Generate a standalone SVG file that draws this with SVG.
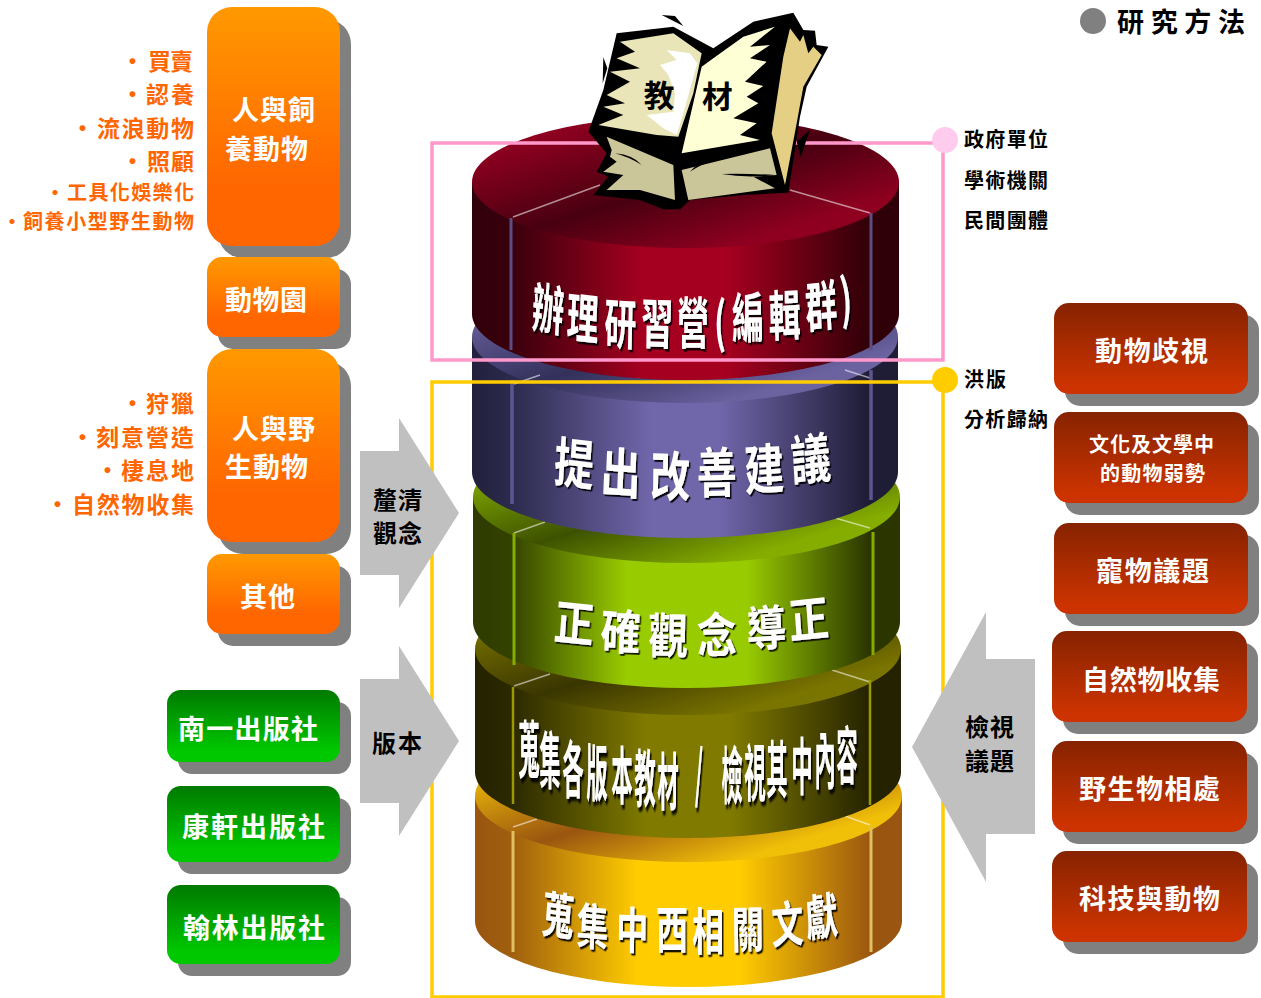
<svg xmlns="http://www.w3.org/2000/svg" width="1261" height="998" viewBox="0 0 1261 998">
<style>
text{font-family:"Noto Sans CJK TC","Noto Sans CJK SC",sans-serif;font-weight:700}
.s{fill:#808080}
.o{fill:url(#gO)}.g{fill:url(#gG)}.r{fill:url(#gR)}
.w{fill:#fff;font-size:27px}
.bl{fill:#ff6600;font-size:23px}
.bs{fill:#ff6600;font-size:20px}
.k{fill:#000;font-size:20px}
.a{fill:#c0c0c0}
.d{fill:#fff;font-size:40px;text-anchor:middle;dominant-baseline:central;filter:url(#sh)}
.e{stroke:#fff;stroke-opacity:.55;stroke-width:1.5;fill:none}
</style>
<defs>
<linearGradient id="gO" x1="0" y1="0" x2="0" y2="1"><stop offset="0" stop-color="#ff9900"/><stop offset=".75" stop-color="#ff6600"/></linearGradient>
<linearGradient id="gG" x1="0" y1="0" x2="0" y2="1"><stop offset="0" stop-color="#007a00"/><stop offset=".85" stop-color="#00c800"/></linearGradient>
<linearGradient id="gR" x1="0" y1="0" x2="0" y2="1"><stop offset="0" stop-color="#862300"/><stop offset=".9" stop-color="#cc3300"/></linearGradient>
<linearGradient id="f1"><stop offset="0" stop-color="#30000a"/><stop offset=".09" stop-color="#38000c"/><stop offset=".4" stop-color="#a5001f"/><stop offset=".6" stop-color="#a5001f"/><stop offset=".93" stop-color="#300008"/><stop offset="1" stop-color="#300008"/></linearGradient>
<linearGradient id="t1" x1="0" y1="0" x2="1" y2="1"><stop offset=".15" stop-color="#8f0020"/><stop offset=".5" stop-color="#480010"/><stop offset=".8" stop-color="#8f0020"/></linearGradient>
<linearGradient id="f2"><stop offset="0" stop-color="#22203c"/><stop offset=".09" stop-color="#2c2a4c"/><stop offset=".42" stop-color="#7066aa"/><stop offset=".58" stop-color="#7066aa"/><stop offset=".93" stop-color="#1f1c36"/><stop offset="1" stop-color="#1f1c36"/></linearGradient>
<linearGradient id="t2" x1="0" y1="0" x2="1" y2="1"><stop offset=".15" stop-color="#6b62a0"/><stop offset=".5" stop-color="#33305a"/><stop offset=".8" stop-color="#6b62a0"/></linearGradient>
<linearGradient id="f3"><stop offset="0" stop-color="#2e3a00"/><stop offset=".09" stop-color="#344200"/><stop offset=".36" stop-color="#99cc00"/><stop offset=".64" stop-color="#99cc00"/><stop offset=".93" stop-color="#2a3500"/><stop offset="1" stop-color="#2a3500"/></linearGradient>
<linearGradient id="t3" x1="0" y1="0" x2="1" y2="1"><stop offset=".15" stop-color="#85ad00"/><stop offset=".5" stop-color="#3d5200"/><stop offset=".8" stop-color="#85ad00"/></linearGradient>
<linearGradient id="f4"><stop offset="0" stop-color="#242200"/><stop offset=".09" stop-color="#2c2a00"/><stop offset=".4" stop-color="#807a00"/><stop offset=".6" stop-color="#807a00"/><stop offset=".93" stop-color="#242200"/><stop offset="1" stop-color="#242200"/></linearGradient>
<linearGradient id="t4" x1="0" y1="0" x2="1" y2="1"><stop offset=".15" stop-color="#7a7400"/><stop offset=".5" stop-color="#3a3600"/><stop offset=".8" stop-color="#7a7400"/></linearGradient>
<linearGradient id="f5"><stop offset="0" stop-color="#9a5510"/><stop offset=".09" stop-color="#a0600e"/><stop offset=".38" stop-color="#ffcc00"/><stop offset=".62" stop-color="#ffcc00"/><stop offset=".93" stop-color="#9a5510"/><stop offset="1" stop-color="#9a5510"/></linearGradient>
<linearGradient id="t5" x1="0" y1="0" x2="1" y2="1"><stop offset=".15" stop-color="#f0bf08"/><stop offset=".5" stop-color="#9a5510"/><stop offset=".8" stop-color="#f0bf08"/></linearGradient>
<filter id="sh" x="-10%" y="-20%" width="120%" height="140%"><feDropShadow dx="1.500" dy="1.500" stdDeviation=".4" flood-color="#000" flood-opacity=".9"/></filter>
</defs>

<g id="stack">
<g id="tier-gold">
<path d="M475 796V921A213.500 66 0 0 0 902 921V796Z" fill="url(#f5)"/>
<ellipse cx="688.500" cy="796" rx="213.500" ry="66" fill="url(#t5)"/>
<path class="e" d="M513 827L537 819M870 825L845 816"/>
<path d="M513 831V952M871 827V952" stroke="#e0c060" stroke-width="3"/>
<g transform="scale(1,1.55)"><text class="d" style="font-size:32px" x="557 592 632 672 708 748 788 823" y="587 595 598 598 599 598 595 591" rotate="6 3 1 0 0 -1 -3 -6">蒐集中西相關文獻</text></g>
</g>
<g id="tier-olive">
<path d="M475 649V772A213 66 0 0 0 901 772V649Z" fill="url(#f4)"/>
<ellipse cx="688" cy="649" rx="213" ry="66" fill="url(#t4)"/>
<path class="e" d="M514 686L550 674M870 682L832 670"/>
<path d="M513 687V804M870 680V805" stroke="#9a9a00" stroke-width="2.500"/>
<g transform="scale(1,2.9)"><text class="d" style="font-size:21.500px" x="529 550 573 597 622 645 668 699 732 755 777 802 825 847" y="257 261 264 265 266 267 268 265 266 265 264 263 261 259">蒐集各版本教材/檢視其中內容</text></g>
</g>
<g id="tier-green">
<path d="M473 497V622A213.500 66 0 0 0 900 622V497Z" fill="url(#f3)"/>
<ellipse cx="686.500" cy="497" rx="213.500" ry="66" fill="url(#t3)"/>
<path class="e" d="M514 533L545 522M870 528L835 518"/>
<path d="M514 533V665M873 532V655" stroke="#85ad00" stroke-width="3"/>
<g transform="scale(1,1.2)"><text class="d" x="573 620 668 717 767 810" y="515 523 527 527 522 515" rotate="5 3 1 -1 -3 -5">正確觀念導正</text></g>
</g>
<g id="tier-purple">
<path d="M472 337V472A213 66 0 0 0 898 472V337Z" fill="url(#f2)"/>
<ellipse cx="685" cy="337" rx="213" ry="66" fill="url(#t2)"/>
<path class="e" d="M514 384L540 375M870 378L845 370"/>
<path d="M512 380V504M871 370V500" stroke="#5d5590" stroke-width="3.500"/>
<g transform="scale(1,1.35)"><text class="d" x="573 620 670 717 765 812" y="339 347 350 348 346 339" rotate="5 3 1 -1 -3 -5">提出改善建議</text></g>
</g>
<g id="tier-red">
<path d="M472 182V314A213.500 66 0 0 0 899 314V182Z" fill="url(#f1)"/>
<ellipse cx="685.500" cy="182" rx="213.500" ry="66" fill="url(#t1)"/>
<path class="e" d="M513 217L600 185M870 213L790 190"/>
<path d="M511 218V350M871 213V350" stroke="#5d4d82" stroke-width="3"/>
<g transform="scale(1,1.7)"><text class="d" style="font-size:32px" x="547 582 620 657 693 720 748 785 822 847" y="178 184 188 188 188 187 185 184 179 174" rotate="6 4 2 1 0 0 -1 -2 -4 -6">辦理研習營(編輯群)</text></g>
</g>
</g>

<rect x="432" y="143" width="511" height="217" fill="none" stroke="#ff99cc" stroke-width="3.500"/>
<rect x="432" y="382" width="511" height="615" fill="none" stroke="#ffcc00" stroke-width="3.500"/>
<circle cx="945" cy="140" r="13" fill="#ffccee"/>
<circle cx="945" cy="380" r="13" fill="#ffcc00"/>

<g id="book" transform="translate(460,0) scale(.33333)">
<path d="M470 100L640 80L760 145L880 65L1000 38L1030 90L1065 92L1070 135L1105 140L1040 260L1020 350L985 578L850 585L690 600L660 628L610 628L540 600L400 585L445 530L410 515L440 460L385 395L430 270Z"/>
<path d="M605 45L645 48L670 78ZM430 172L442 205L428 250ZM1050 390L1022 470L1010 425Z"/>
<path fill="#e9e5b8" d="M480 125L640 100L725 160L700 280L655 410L590 405L415 375L490 345L430 320L495 310L440 285L510 245L450 215L540 205L470 175L525 155Z"/>
<path fill="#fff" d="M620 150L690 160L712 190L670 340L650 405L610 385L560 345L640 335L645 280L625 225L600 195L650 180Z"/>
<path fill="#ffffd5" d="M945 80L870 140L930 135L870 175L920 185L855 245L910 258L860 290L895 310L820 355L890 370L840 405L900 420L665 460L725 200L760 175L850 110Z"/>
<path fill="#e5cf85" d="M990 85L1020 125L1030 105L1045 160L1060 140L1085 165L1030 260L1010 370L975 555L935 400L970 170Z"/>
<path fill="#cbc59a" d="M440 410L640 495L645 600L540 570L440 570L490 525L430 515L470 485L450 470L455 450Z"/>
<path fill="#cbc59a" d="M665 510L930 445L950 525L880 530L945 565L685 600Z"/>
<path d="M465 460Q520 465 545 495Q510 472 465 460ZM690 515Q720 480 765 480Q725 492 690 515ZM785 522Q860 520 945 525Q860 535 785 522Z"/>
<text x="597" y="320" text-anchor="middle" fill="#000" style="font-size:92px">教</text>
<text x="772" y="325" text-anchor="middle" fill="#000" style="font-size:92px">材</text>
</g>

<g id="connectors">
<path class="a" d="M360 451H399V418L459 513L399 608V575H360Z"/>
<path class="a" d="M360 679H399V646L459 741L399 836V803H360Z"/>
<path class="a" d="M912 747L986 612V659H1035V834H986V882Z"/>
</g>
<g id="arrow-labels">
<text class="k" x="373" y="509" textLength="49" style="font-size:24px">釐清</text>
<text class="k" x="373" y="542" textLength="49" style="font-size:24px">觀念</text>
<text class="k" x="372" y="752" textLength="50" style="font-size:24px">版本</text>
<text class="k" x="965" y="736" textLength="49" style="font-size:24px">檢視</text>
<text class="k" x="965" y="770" textLength="49" style="font-size:24px">議題</text>
</g>

<g id="n-feed"><rect class="s" x="218" y="19" width="133" height="239" rx="25"/><rect class="o" x="207" y="7" width="133" height="239" rx="25"/>
<text class="w" x="232" y="120" textLength="83">人與飼</text><text class="w" x="225" y="159" textLength="83">養動物</text></g>
<g id="n-zoo"><rect class="s" x="218" y="269" width="133" height="80" rx="15"/><rect class="o" x="207" y="257" width="133" height="80" rx="15"/>
<text class="w" x="225" y="310" textLength="82">動物園</text></g>
<g id="n-wild"><rect class="s" x="218" y="361" width="133" height="193" rx="25"/><rect class="o" x="207" y="349" width="133" height="193" rx="25"/>
<text class="w" x="232" y="439" textLength="83">人與野</text><text class="w" x="225" y="477" textLength="83">生動物</text></g>
<g id="n-other"><rect class="s" x="218" y="566" width="133" height="80" rx="15"/><rect class="o" x="207" y="554" width="133" height="80" rx="15"/>
<text class="w" x="240" y="607" textLength="55">其他</text></g>

<g id="list-feed">
<text class="bl" y="70"><tspan x="121">‧</tspan><tspan x="148" textLength="45">買賣</tspan></text>
<text class="bl" y="103"><tspan x="121">‧</tspan><tspan x="146" textLength="48">認養</tspan></text>
<text class="bl" y="137"><tspan x="71">‧</tspan><tspan x="97" textLength="97">流浪動物</tspan></text>
<text class="bl" y="170"><tspan x="121">‧</tspan><tspan x="147" textLength="47">照顧</tspan></text>
<text class="bs" y="200"><tspan x="45">‧</tspan><tspan x="67" textLength="127">工具化娛樂化</tspan></text>
<text class="bs" y="229"><tspan x="2">‧</tspan><tspan x="23" textLength="171">飼養小型野生動物</tspan></text>
</g>
<g id="list-wild">
<text class="bl" y="412"><tspan x="121">‧</tspan><tspan x="146" textLength="48">狩獵</tspan></text>
<text class="bl" y="446"><tspan x="71">‧</tspan><tspan x="96" textLength="98">刻意營造</tspan></text>
<text class="bl" y="479"><tspan x="96">‧</tspan><tspan x="121" textLength="73">棲息地</tspan></text>
<text class="bl" y="513"><tspan x="46">‧</tspan><tspan x="72" textLength="122">自然物收集</tspan></text>
</g>

<g id="n-nanyi"><rect class="s" x="178" y="702" width="173" height="72" rx="14"/><rect class="g" x="167" y="690" width="173" height="72" rx="14"/>
<text class="w" x="178" y="739" textLength="140">南一出版社</text></g>
<g id="n-kang"><rect class="s" x="178" y="798" width="173" height="76" rx="14"/><rect class="g" x="167" y="786" width="173" height="76" rx="14"/>
<text class="w" x="182" y="837" textLength="143">康軒出版社</text></g>
<g id="n-han"><rect class="s" x="178" y="897" width="173" height="79" rx="14"/><rect class="g" x="167" y="885" width="173" height="79" rx="14"/>
<text class="w" x="183" y="938" textLength="142">翰林出版社</text></g>

<g id="n-r1"><rect class="s" x="1065" y="315" width="194" height="91" rx="15"/><rect class="r" x="1054" y="303" width="194" height="91" rx="15"/>
<text class="w" x="1095" y="361" textLength="113">動物歧視</text></g>
<g id="n-r2"><rect class="s" x="1065" y="424" width="194" height="91" rx="15"/><rect class="r" x="1054" y="412" width="194" height="91" rx="15"/>
<text class="w" style="font-size:20px" x="1089" y="452" textLength="125">文化及文學中</text><text class="w" style="font-size:20px" x="1100" y="481" textLength="105">的動物弱勢</text></g>
<g id="n-r3"><rect class="s" x="1065" y="535" width="194" height="91" rx="15"/><rect class="r" x="1054" y="523" width="194" height="91" rx="15"/>
<text class="w" x="1096" y="581" textLength="113">寵物議題</text></g>
<g id="n-r4"><rect class="s" x="1063" y="643" width="195" height="91" rx="15"/><rect class="r" x="1052" y="631" width="195" height="91" rx="15"/>
<text class="w" x="1082" y="690" textLength="138">自然物收集</text></g>
<g id="n-r5"><rect class="s" x="1063" y="753" width="195" height="91" rx="15"/><rect class="r" x="1052" y="741" width="195" height="91" rx="15"/>
<text class="w" x="1079" y="799" textLength="141">野生物相處</text></g>
<g id="n-r6"><rect class="s" x="1063" y="863" width="195" height="91" rx="15"/><rect class="r" x="1052" y="851" width="195" height="91" rx="15"/>
<text class="w" x="1079" y="909" textLength="141">科技與動物</text></g>

<g id="legend">
<circle cx="1093" cy="21" r="13" fill="#808080"/>
<text x="1117" y="32" textLength="128" fill="#000" style="font-size:27px">研究方法</text>
</g>
<g id="side-labels">
<text class="k" x="964" y="147" textLength="84">政府單位</text>
<text class="k" x="964" y="188" textLength="84">學術機關</text>
<text class="k" x="964" y="228" textLength="84">民間團體</text>
<text class="k" x="964" y="387" textLength="42">洪版</text>
<text class="k" x="964" y="427" textLength="84">分析歸納</text>
</g>
</svg>
